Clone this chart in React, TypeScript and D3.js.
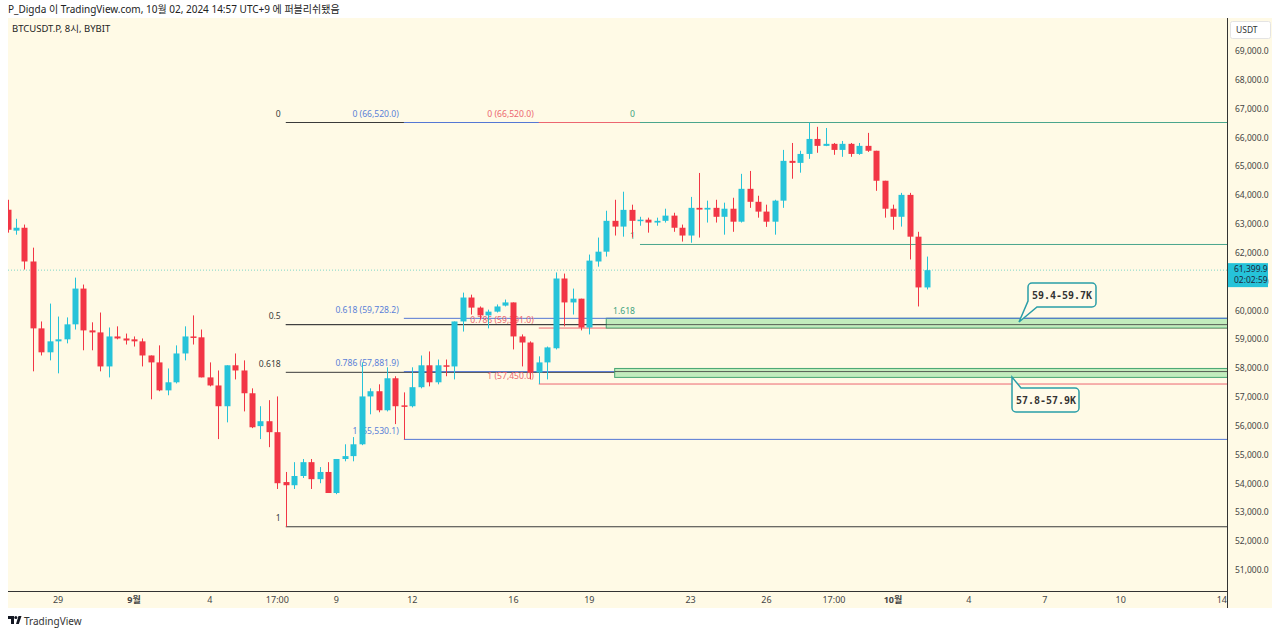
import React from 'react';
import * as d3 from 'd3';

// 8h BTCUSDT.P candles, [open, high, low, close]
const candles: [number, number, number, number][] = [
  [63495, 63840, 62700, 62800], [62770, 63180, 62630, 62870], [62870, 62980, 61420, 61700],
  [61700, 62180, 57890, 59380], [59380, 59620, 58440, 58550], [58550, 60240, 58270, 58930],
  [58930, 59790, 57820, 59000], [59000, 59760, 58860, 59520], [59520, 61140, 59340, 60760],
  [60760, 60900, 58620, 59310], [59310, 59590, 58620, 59240], [59240, 59930, 57890, 58060],
  [58060, 59410, 57680, 59100], [59100, 59450, 59000, 59030], [59030, 59200, 58820, 58960],
  [59000, 59100, 58750, 58930], [58930, 59030, 58060, 58440], [58440, 58440, 56920, 58200],
  [58200, 58790, 57200, 57230], [57230, 57990, 57060, 57510], [57510, 58790, 57470, 58510],
  [58510, 59450, 58270, 59100], [59100, 59830, 58820, 59070], [59070, 59340, 57680, 57680],
  [57680, 58200, 57370, 57400], [57400, 57920, 55540, 56680], [56680, 58100, 56120, 58100],
  [58100, 58510, 57610, 57920], [57920, 58270, 56500, 57130], [57130, 57300, 55920, 55950],
  [55990, 56680, 55540, 56160], [56160, 56890, 55260, 55780], [55780, 57020, 53810, 54010],
  [54050, 54400, 52500, 53940], [53940, 54740, 53810, 54260], [54260, 54850, 54190, 54740],
  [54740, 54850, 53810, 54150], [54150, 54570, 54010, 54400], [54400, 54740, 53670, 53670],
  [53670, 54850, 53630, 54850], [54850, 55360, 54770, 54950], [54950, 55610, 54770, 55360],
  [55360, 58200, 55330, 57020], [57020, 57300, 56400, 57200], [57200, 57440, 56470, 56540],
  [56540, 58030, 56500, 57650], [57650, 57720, 56060, 56680], [56710, 57160, 55530, 56680],
  [56680, 58030, 56640, 57340], [57340, 58440, 57300, 58100], [58100, 58580, 57370, 57510],
  [57510, 58300, 57440, 58100], [58100, 58300, 57720, 58060], [58060, 59620, 57610, 59620],
  [59620, 60620, 59270, 60450], [60450, 60550, 59860, 60100], [60100, 60140, 59690, 59830],
  [59830, 60030, 59380, 59960], [59960, 60210, 59930, 60140], [60170, 60380, 60140, 60280],
  [60280, 60280, 58650, 59100], [59100, 59170, 58060, 58890], [58890, 58930, 57610, 57850],
  [57850, 58410, 57450, 58200], [58200, 58750, 57610, 58720], [58690, 61320, 58650, 61110],
  [61110, 61280, 59450, 60280], [60280, 60760, 59860, 60410], [60410, 60410, 59310, 59410],
  [59410, 61940, 59170, 61730], [61700, 62530, 61520, 62040], [62040, 63460, 61870, 63110],
  [63110, 63840, 62600, 62910], [62910, 64120, 62560, 63490], [63490, 63670, 62530, 63110],
  [63110, 63250, 62940, 63150], [63150, 63220, 62700, 63050], [63050, 63220, 62940, 63110],
  [63110, 63530, 63050, 63290], [63290, 63390, 62730, 62870], [62870, 62980, 62390, 62600],
  [62600, 63940, 62350, 63560], [63560, 64770, 62530, 63500], [63500, 63810, 63050, 63560],
  [63560, 63840, 63050, 63250], [63250, 63740, 62630, 63530], [63530, 63910, 62730, 63080],
  [63080, 64740, 63050, 64220], [64220, 64840, 63560, 63770], [63770, 63980, 63220, 63430],
  [63430, 63670, 62900, 63080], [63080, 63840, 62630, 63810], [63810, 65570, 63560, 65190],
  [65190, 65810, 64570, 65120], [65120, 65540, 64780, 65430], [65430, 66520, 65260, 65950],
  [65950, 66370, 65470, 65710], [65710, 66330, 65700, 65780], [65780, 65810, 65400, 65570],
  [65570, 65880, 65330, 65780], [65780, 65810, 65330, 65430], [65430, 65810, 65400, 65710],
  [65710, 66160, 65500, 65540], [65540, 65540, 64150, 64500], [64500, 64500, 63220, 63530],
  [63530, 63670, 62800, 63250], [63250, 64080, 62910, 64010], [64010, 64080, 61770, 62560],
  [62560, 62730, 60140, 60800], [60800, 61870, 60730, 61399.9],
];

const lastPrice = 61399.9;
const countdown = '02:02:59';

const priceTicks = d3.range(51000, 69001, 1000);

// bar index -> label (bars are 8h, 3 per day)
const timeTicks: { bar: number; label: string; bold?: boolean }[] = [
  { bar: 6, label: '29' }, { bar: 15, label: '9월', bold: true }, { bar: 24, label: '4' },
  { bar: 32, label: '17:00' }, { bar: 39, label: '9' }, { bar: 48, label: '12' },
  { bar: 60, label: '16' }, { bar: 69, label: '19' }, { bar: 81, label: '23' },
  { bar: 90, label: '26' }, { bar: 98, label: '17:00' }, { bar: 105, label: '10월', bold: true },
  { bar: 114, label: '4' }, { bar: 123, label: '7' }, { bar: 132, label: '10' }, { bar: 144, label: '14' },
];

const fibBlack = [
  { v: 66520, t: '0' }, { v: 59510, t: '0.5' }, { v: 57856, t: '0.618' }, { v: 52500, t: '1' },
];
const fibBlue = [
  { v: 66520, t: '0 (66,520.0)' }, { v: 59728.2, t: '0.618 (59,728.2)' },
  { v: 57881.9, t: '0.786 (57,881.9)' }, { v: 55530.1, t: '1 (55,530.1)' },
];
const fibRed = [
  { v: 66520, t: '0 (66,520.0)' }, { v: 59391, t: '0.786 (59,391.0)' }, { v: 57450, t: '1 (57,450.0)' },
];
const fibTeal = [
  { v: 66520, t: '0' }, { v: 62290, t: '1' }, { v: 59700, t: '1.618' },
];

const fibs = [
  { start: 33, color: '#3a3a3a', text: '#3a3a3a', levels: fibBlack },
  { start: 47, color: '#5577d4', text: '#5a7fd8', levels: fibBlue },
  { start: 63, color: '#ec6670', text: '#ec6670', levels: fibRed },
  { start: 75, color: '#4aa58c', text: '#3ea37f', levels: fibTeal },
];

const zones = [
  { start: 71, hi: 59728, lo: 59391, label: '59.4-59.7K' },
  { start: 72, hi: 57990, lo: 57680, label: '57.8-57.9K' },
];

const W = 1280;
const H = 634;
const FONT = '"Noto Sans", "Noto Sans CJK KR", sans-serif';
const UP = '#26c3d9';
const DOWN = '#f23645';

const App = () => {
  const left = 8;
  const right = 1227;
  const top = 18;
  const bottom = 591;

  const x = d3.scaleLinear().domain([0, 144]).range([7.5, 7.5 + 144 * 8.433]);
  const y = d3.scaleLinear().domain([51000, 69000]).range([570, 51]);
  const fmt = d3.format(',.1f');
  const bw = 6;

  const lineY = y(lastPrice);

  // callout path with tail
  const callout = (bx: number, by: number, w: number, h: number, tail: 'down' | 'up', tx: number, ty: number) => {
    const r = 4;
    const p = d3.path();
    if (tail === 'down') {
      p.moveTo(bx + r, by);
      p.lineTo(bx + w - r, by);
      p.arcTo(bx + w, by, bx + w, by + r, r);
      p.lineTo(bx + w, by + h - r);
      p.arcTo(bx + w, by + h, bx + w - r, by + h, r);
      p.lineTo(bx + 9, by + h);
      p.lineTo(tx, ty);
      p.lineTo(bx, by + h - 6);
      p.lineTo(bx, by + r);
      p.arcTo(bx, by, bx + r, by, r);
    } else {
      p.moveTo(bx + 9, by);
      p.lineTo(bx + w - r, by);
      p.arcTo(bx + w, by, bx + w, by + r, r);
      p.lineTo(bx + w, by + h - r);
      p.arcTo(bx + w, by + h, bx + w - r, by + h, r);
      p.lineTo(bx + r, by + h);
      p.arcTo(bx, by + h, bx, by + h - r, r);
      p.lineTo(bx, by + 5);
      p.lineTo(tx, ty);
    }
    p.closePath();
    return p.toString();
  };

  return (
    <div style={{ position: 'absolute', left: 0, top: 0 }}>
      <svg width={W} height={H} style={{ display: 'block', fontFamily: FONT }}>
        <rect width={W} height={H} fill="#ffffff" />
        <text x={8} y={13} fontSize={10} fill="#222">
          P_Digda 이 TradingView.com, 10월 02, 2024 14:57 UTC+9 에 퍼블리쉬됐음
        </text>

        <rect x={left} y={top} width={1272 - left} height={608 - top} fill="#fffae6" />
        <text x={12} y={32} fontSize={9.5} fill="#222">BTCUSDT.P, 8시, BYBIT</text>

        <defs>
          <clipPath id="plot">
            <rect x={left} y={top} width={right - left} height={bottom - top} />
          </clipPath>
        </defs>

        <g clipPath="url(#plot)">
          {/* last price dotted line */}
          <line x1={left} x2={right} y1={lineY} y2={lineY} stroke="#7fd6c8" strokeDasharray="1 2" />

          {/* fib levels */}
          {fibs.map((f, fi) => (
            <g key={fi}>
              {f.levels.map((l, li) => (
                <g key={li}>
                  <line x1={x(f.start)} x2={right} y1={y(l.v)} y2={y(l.v)} stroke={f.color} strokeWidth={1} />
                  <text
                    x={x(f.start) - 5}
                    y={y(l.v) - 5.5}
                    fontSize={8.6}
                    textAnchor="end"
                    fill={f.text}
                  >
                    {l.t}
                  </text>
                </g>
              ))}
            </g>
          ))}

          {/* zones */}
          {zones.map((z, i) => (
            <rect
              key={i}
              x={x(z.start)}
              y={y(z.hi)}
              width={right - x(z.start) + 2}
              height={y(z.lo) - y(z.hi)}
              fill="#c2ecbd"
              stroke="#47a673"
              strokeWidth={1}
            />
          ))}
          {/* lines that show through the zones */}
          <line x1={x(71)} x2={right} y1={y(59728.2)} y2={y(59728.2)} stroke="#5577d4" />
          <line x1={x(72)} x2={right} y1={y(57881.9)} y2={y(57881.9)} stroke="#3a3a3a" strokeOpacity={0.8} />
          <line x1={x(33)} x2={right} y1={y(59510)} y2={y(59510)} stroke="#3a3a3a" strokeOpacity={0.8} />

          {/* candles */}
          {candles.map((c, i) => {
            const [o, h, l, cl] = c;
            const col = cl >= o ? UP : DOWN;
            const yt = y(Math.max(o, cl));
            const yb = y(Math.min(o, cl));
            const cx = Math.round(x(i)) + 0.5;
            return (
              <g key={i}>
                <line x1={cx} x2={cx} y1={y(h)} y2={y(l)} stroke={col} strokeWidth={1} />
                <rect x={cx - bw / 2} y={yt} width={bw} height={Math.max(1.5, yb - yt)} fill={col} />
              </g>
            );
          })}

          {/* callouts */}
          <path d={callout(1028, 283, 68, 24, 'down', 1019, 322)} fill="#fffbea" stroke="#2a9ea8" strokeWidth={1.5} />
          <text x={1062} y={299} fontSize={10} fontWeight="bold" textAnchor="middle" fill="#333"
            style={{ fontFamily: '"DejaVu Sans Mono", monospace' }}>{zones[0].label}</text>
          <path d={callout(1012, 388, 67, 24, 'up', 1012, 377)} fill="#fffbea" stroke="#2a9ea8" strokeWidth={1.5} />
          <text x={1046} y={404} fontSize={10} fontWeight="bold" textAnchor="middle" fill="#333"
            style={{ fontFamily: '"DejaVu Sans Mono", monospace' }}>{zones[1].label}</text>
        </g>

        {/* time axis */}
        <line x1={left} x2={right} y1={bottom + 0.5} y2={bottom + 0.5} stroke="#333" />
        {timeTicks.map((t, i) => (
          <text key={i} x={x(t.bar)} y={603} fontSize={9} textAnchor="middle" fill="#444"
            fontWeight={t.bold ? 'bold' : 'normal'}>{t.label}</text>
        ))}

        {/* price axis */}
        <line x1={right + 0.5} x2={right + 0.5} y1={top} y2={608} stroke="#333" />
        {priceTicks.map((p) => (
          <text key={p} x={1235} y={y(p) + 3} fontSize={8.5} fill="#444">{fmt(p)}</text>
        ))}
        <rect x={1230.5} y={21.5} width={40} height={17} rx={2} fill="#fff" stroke="#e4e4e4" />
        <text x={1236} y={33} fontSize={8.5} fill="#333">USDT</text>

        <rect x={1228} y={lineY - 7} width={40} height={24} fill={UP} />
        <text x={1234} y={lineY + 2} fontSize={8.5} fill="#1b2a40">{fmt(lastPrice)}</text>
        <text x={1234} y={lineY + 13} fontSize={8.5} fill="#1b2a40">{countdown}</text>

        {/* logo */}
        <g transform="translate(8,616)">
          <path d="M0 0 H6 V8 H3 V3 H0 Z" fill="#131722" />
          <circle cx={7.8} cy={1.5} r={1.5} fill="#131722" />
          <path d="M8 8 L10.5 0 H13.5 L10.8 8 Z" fill="#131722" />
        </g>
        <text x={24} y={625} fontSize={10} fill="#333">TradingView</text>
      </svg>
    </div>
  );
};

export default App;
